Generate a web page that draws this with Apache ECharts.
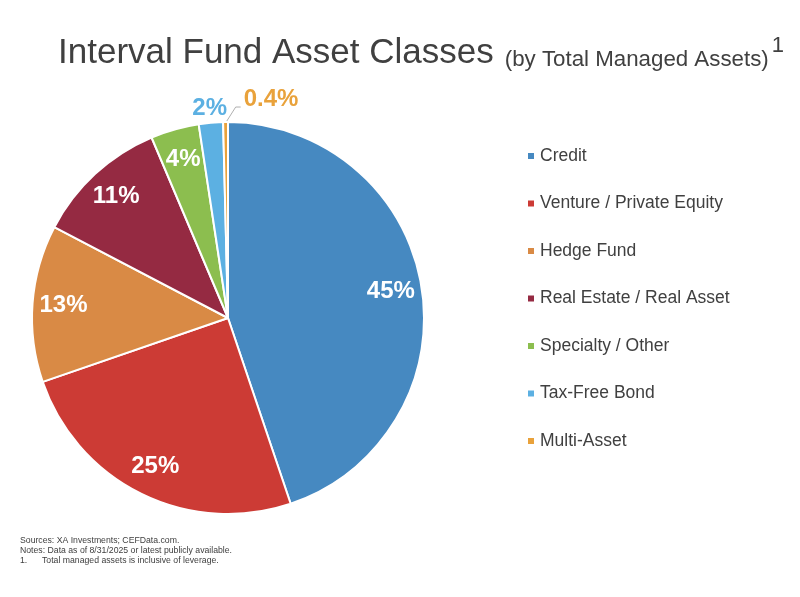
<!doctype html>
<html>
    <head>
        <meta charset="utf-8">
        <title>Interval Fund Asset Classes</title>
        <style>
            html, body { margin: 0; padding: 0; background: #fff; }
            #main { width: 800px; height: 597px; }
        </style>
    </head>
    <body>
        <div id="main"></div>
        <script src="https://cdn.jsdelivr.net/npm/echarts@6/dist/echarts.min.js"></script>
        <script>
            var categories = ['Credit', 'Venture / Private Equity', 'Hedge Fund', 'Real Estate / Real Asset',
                'Specialty / Other', 'Tax-Free Bond', 'Multi-Asset'];
            var shares = [45, 25, 13, 11, 4, 2, 0.4];
            var colors = ['#4689c1', '#cc3b35', '#d98a45', '#952a42', '#8cbe4f', '#5cb0e2', '#e9a23b'];

            // which label goes where: inside the slice, just outside, or outside with a leader line
            var labelPlace = ['in', 'in', 'in', 'in', 'in', 'out', 'line'];

            var FONT = '"Liberation Sans", Arial, sans-serif';
            var CX = 228, CY = 318, R = 196;

            function pct(v) {
                return v + '%';
            }

            function labelStyle(show, color) {
                return {
                    show: show,
                    position: 'inside',
                    color: color || '#fff',
                    fontFamily: FONT,
                    fontWeight: 'bold',
                    fontSize: 24,
                    formatter: function (p) { return pct(p.value); }
                };
            }

            // main visible pie, only the leader line label
            var mainData = categories.map(function (name, i) {
                var item = {
                    name: name,
                    value: shares[i],
                    itemStyle: { color: colors[i] },
                    label: { show: false },
                    labelLine: { show: false }
                };
                if (labelPlace[i] === 'line') {
                    item.label = {
                        show: true,
                        position: 'outside',
                        color: colors[i],
                        fontFamily: FONT,
                        fontWeight: 'bold',
                        fontSize: 24,
                        formatter: function (p) { return pct(p.value); }
                    };
                    item.labelLine = {
                        show: true,
                        length: 12,
                        length2: 4,
                        lineStyle: { color: '#9a9a9a', width: 0.8 }
                    };
                }
                return item;
            });

            // transparent ring holding the inside labels
            var innerData = categories.map(function (name, i) {
                return {
                    name: name,
                    value: shares[i],
                    itemStyle: { color: 'rgba(0,0,0,0)' },
                    label: labelStyle(labelPlace[i] === 'in')
                };
            });

            // transparent ring just outside the pie for the small outside label
            var outerData = categories.map(function (name, i) {
                return {
                    name: name,
                    value: shares[i],
                    itemStyle: { color: 'rgba(0,0,0,0)' },
                    label: labelStyle(labelPlace[i] === 'out', colors[i])
                };
            });

            var chart = echarts.init(document.getElementById('main'));

            var titleText = { fontFamily: FONT, color: '#404040', fontWeight: 'normal' };

            chart.setOption({
                animation: false,
                title: [{
                    left: 58,
                    top: 31,
                    padding: 0,
                    text: '{a|Interval Fund Asset Classes}{b|(by Total Managed Assets)}{c|1}',
                    textStyle: {
                        fontWeight: 'normal',
                        rich: {
                            a: Object.assign({ fontSize: 35, lineHeight: 40, verticalAlign: 'bottom' }, titleText),
                            b: Object.assign({ fontSize: 22.3, lineHeight: 37, verticalAlign: 'bottom', padding: [0, 0, 0, 11] }, titleText),
                            c: Object.assign({ fontSize: 22, lineHeight: 22, verticalAlign: 'top', padding: [4, 0, 0, 3] }, titleText)
                        }
                    }
                }, {
                    left: 20,
                    top: 536,
                    padding: 0,
                    text: 'Sources: XA Investments; CEFData.com.\nNotes: Data as of 8/31/2025 or latest publicly available.\n{n|1.}Total managed assets is inclusive of leverage.',
                    textStyle: {
                        fontFamily: FONT,
                        fontSize: 8.7,
                        fontWeight: 'normal',
                        color: '#404040',
                        lineHeight: 10,
                        rich: {
                            n: { width: 22, fontFamily: FONT, fontSize: 8.7, color: '#404040', lineHeight: 10 }
                        }
                    }
                }],
                legend: {
                    orient: 'vertical',
                    left: 526,
                    top: 147,
                    padding: 0,
                    itemWidth: 8,
                    itemHeight: 8,
                    itemGap: 29.5,
                    icon: 'rect',
                    data: categories,
                    selectedMode: false,
                    textStyle: {
                        fontFamily: FONT,
                        fontSize: 17.5,
                        color: '#404040',
                        lineHeight: 18
                    }
                },
                series: [{
                    type: 'pie',
                    center: [CX, CY],
                    radius: [0, R],
                    startAngle: 90,
                    clockwise: true,
                    avoidLabelOverlap: false,
                    silent: true,
                    itemStyle: { borderColor: '#fff', borderWidth: 2 },
                    labelLayout: function (p) {
                        if (labelPlace[p.dataIndex] !== 'line') {
                            return;
                        }
                        // move the label to the right of the slice and lead a line to it
                        var lx = p.labelRect.x + 82;
                        var ly = p.labelRect.y - 11;
                        var lineY = ly + p.labelRect.height - 4;
                        return {
                            dx: 82,
                            dy: -11,
                            labelLinePoints: [
                                [p.rect.x + p.rect.width / 2, p.rect.y + 2],
                                [lx - 8, lineY],
                                [lx - 3, lineY]
                            ]
                        };
                    },
                    data: mainData
                }, {
                    type: 'pie',
                    center: [CX, CY],
                    radius: [128, R],
                    startAngle: 90,
                    avoidLabelOverlap: false,
                    silent: true,
                    labelLine: { show: false },
                    data: innerData
                }, {
                    type: 'pie',
                    center: [CX, CY],
                    radius: [R, R + 22],
                    startAngle: 90,
                    avoidLabelOverlap: false,
                    silent: true,
                    labelLine: { show: false },
                    data: outerData
                }]
            });

            window.onresize = chart.resize;
        </script>
    </body>
</html>
